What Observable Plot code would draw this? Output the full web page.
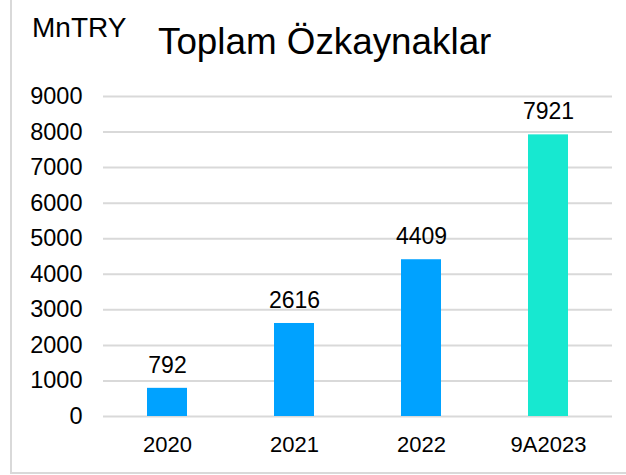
<!DOCTYPE html>
<html>
<head>
<meta charset="utf-8">
<script src="https://cdn.jsdelivr.net/npm/d3@7"></script>
<script src="https://cdn.jsdelivr.net/npm/@observablehq/plot@0.6"></script>
<style>
  body { margin: 0; background: #fff; font-family: "Liberation Sans", Arial, sans-serif; }
  #wrap { position: relative; width: 626px; height: 475px; overflow: hidden; }
  #frame { position: absolute; left: 10px; top: -2px; width: 640px; height: 476px; border: 2px solid #d9d9d9; box-sizing: border-box; pointer-events: none; }
  #unit { position: absolute; left: 32px; top: 14px; font-size: 28px; line-height: 1; color: #000; white-space: nowrap; }
  #title { position: absolute; left: 158px; top: 24px; font-size: 36.8px; line-height: 1; color: #000; white-space: nowrap; }
  #chart { position: absolute; left: 0; top: 0; }
</style>
</head>
<body>
<div id="wrap">
  <div id="chart"></div>
  <div id="frame"></div>
  <div id="unit">MnTRY</div>
  <div id="title">Toplam Özkaynaklar</div>
</div>
<script>
const categories = ["2020", "2021", "2022", "9A2023"];
const values = [792, 2616, 4409, 7921];
const barColors = ["#00A2FF", "#00A2FF", "#00A2FF", "#17E8D0"];
const yTicks = [0, 1000, 2000, 3000, 4000, 5000, 6000, 7000, 8000, 9000];

const data = categories.map((c, i) => ({category: c, value: values[i], color: barColors[i]}));

const chart = Plot.plot({
  width: 626,
  height: 475,
  marginTop: 96,
  marginBottom: 59,
  marginLeft: 103,
  marginRight: 14,
  style: {fontFamily: "Liberation Sans, Arial, sans-serif", color: "#000", background: "transparent"},
  x: {domain: categories, paddingInner: 0.686, paddingOuter: 0.343, label: null},
  y: {domain: [0, 9000], label: null},
  marks: [
    Plot.gridY(yTicks, {stroke: "#d9d9d9", strokeOpacity: 1, strokeWidth: 2}),
    Plot.barY(data, {x: "category", y: "value", fill: "color"}),
    Plot.axisY(yTicks, {tickSize: 0, tickPadding: 21, fontSize: 23.5, tickFormat: d => String(d), fill: "#000", label: null}),
    Plot.axisX({tickSize: 0, tickPadding: 20, fontSize: 22, fill: "#000", label: null}),
    Plot.text(data, {x: "category", y: "value", text: d => String(d.value), dy: -23, fontSize: 23, fill: "#000"})
  ]
});
document.getElementById("chart").appendChild(chart);
</script>
</body>
</html>
